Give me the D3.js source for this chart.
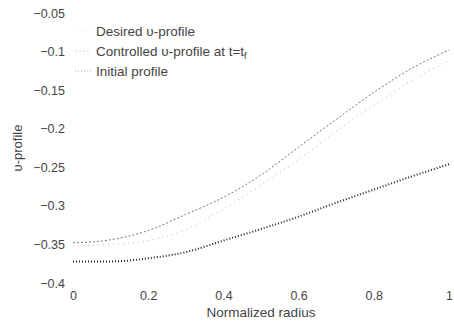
<!DOCTYPE html>
<html>
<head>
<meta charset="utf-8">
<script src="https://cdn.jsdelivr.net/npm/d3@7"></script>
<style>
    body { margin: 0; background: #fff; }
    text { font-family: "Liberation Sans", Arial, sans-serif; }
</style>
</head>
<body>
<div id="chart"></div>
<script>
// Values
const radius = [0, 0.1, 0.2, 0.3, 0.4, 0.5, 0.6, 0.7, 0.8, 0.9, 1.0];
const desired = [-0.352, -0.350, -0.345, -0.331, -0.304, -0.273, -0.240, -0.203, -0.170, -0.138, -0.112];
const controlled = [-0.348, -0.344, -0.332, -0.311, -0.289, -0.260, -0.224, -0.188, -0.153, -0.122, -0.098];
const initial = [-0.372, -0.372, -0.368, -0.360, -0.345, -0.330, -0.314, -0.296, -0.279, -0.262, -0.246];
const xTicks = [0, 0.2, 0.4, 0.6, 0.8, 1];
const yTicks = [-0.4, -0.35, -0.3, -0.25, -0.2, -0.15, -0.1, -0.05];

const margin = { top: 13, right: 5, bottom: 39, left: 73 };
const width = 454 - margin.left - margin.right;
const height = 322 - margin.top - margin.bottom;

const svg = d3
    .select('#chart')
    .append('svg')
    .attr('width', 454)
    .attr('height', 322)
    .append('g')
    .attr('transform', `translate(${margin.left}, ${margin.top})`);

const x = d3.scaleLinear().domain([0, 1]).range([0, width]);
const y = d3.scaleLinear().domain([-0.4, -0.05]).range([height, 0]);

// Axes: only labels, no lines
const xAxis = svg
    .append('g')
    .attr('transform', `translate(0, ${height})`)
    .call(d3.axisBottom(x).tickValues(xTicks).tickSize(0).tickPadding(8).tickFormat(d3.format('')));
const yAxis = svg
    .append('g')
    .call(d3.axisLeft(y).tickValues(yTicks).tickSize(0).tickPadding(8).tickFormat(d3.format('')));
[xAxis, yAxis].forEach((a) => {
    a.select('.domain').remove();
    a.selectAll('text').attr('font-size', 12.5).attr('fill', '#444')
        .style('font-family', '"Liberation Sans", Arial, sans-serif');
});

svg.append('text')
    .attr('x', x(0.5))
    .attr('y', height + 34)
    .attr('text-anchor', 'middle')
    .attr('font-size', 13.5)
    .attr('fill', '#444')
    .text('Normalized radius');

svg.append('text')
    .attr('transform', `translate(${22 - margin.left}, ${height / 2}) rotate(-90)`)
    .attr('text-anchor', 'middle')
    .attr('font-size', 13)
    .attr('fill', '#444')
    .text('υ-profile');

// Series
const series = [
    { name: 'desired', values: desired, color: '#b5b5b5', width: 1, dash: '1,4' },
    { name: 'controlled', values: controlled, color: '#777', width: 1, dash: '2,2' },
    { name: 'initial', values: initial, color: '#222', width: 2, dash: '1,2' }
];

const line = d3
    .line()
    .x((d, i) => x(radius[i]))
    .y((d) => y(d))
    .curve(d3.curveMonotoneX);

svg.append('g')
    .selectAll('path')
    .data(series)
    .enter()
    .append('path')
    .attr('d', (d) => line(d.values))
    .attr('fill', 'none')
    .attr('stroke', (d) => d.color)
    .attr('stroke-width', (d) => d.width)
    .attr('stroke-dasharray', (d) => d.dash);

// Legend
const legend = svg.append('g').attr('transform', 'translate(0, 18)');
const labels = ['Desired υ-profile', 'Controlled υ-profile at t=t', 'Initial profile'];
legend
    .selectAll('line')
    .data(series)
    .enter()
    .append('line')
    .attr('x1', 2)
    .attr('x2', 18)
    .attr('y1', (d, i) => i * 20)
    .attr('y2', (d, i) => i * 20)
    .attr('stroke', (d) => d.color)
    .attr('stroke-opacity', 0.35)
    .attr('stroke-width', 1)
    .attr('stroke-dasharray', (d) => d.dash);
const lt = legend
    .selectAll('text')
    .data(labels)
    .enter()
    .append('text')
    .attr('x', 23)
    .attr('y', (d, i) => i * 20 + 5)
    .attr('font-size', 13.5)
    .attr('fill', '#444')
    .text((d) => d);
lt.filter((d, i) => i === 1)
    .append('tspan')
    .attr('font-size', 9)
    .attr('dy', 3)
    .text('f');
</script>
</body>
</html>
